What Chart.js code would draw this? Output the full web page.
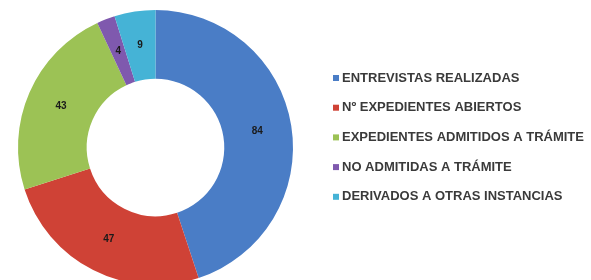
<!DOCTYPE html>
<html>
<head>
<meta charset="utf-8">
<script src="https://cdn.jsdelivr.net/npm/chart.js@4/dist/chart.umd.min.js"></script>
<style>
  html, body { margin:0; padding:0; background:#ffffff; }
  #wrap { position:relative; width:591px; height:280px; overflow:hidden; }
  #wrap canvas { display:block; }
</style>
</head>
<body>
<div id="wrap"><canvas id="chart" width="591" height="285"></canvas></div>
<script>
// datos
const labels = [
  'ENTREVISTAS REALIZADAS',
  'Nº EXPEDIENTES ABIERTOS',
  'EXPEDIENTES ADMITIDOS A TRÁMITE',
  'NO ADMITIDAS A TRÁMITE',
  'DERIVADOS A OTRAS INSTANCIAS'
];
const values = [84, 47, 43, 4, 9];
const colours = ['#4A7DC6', '#CF4236', '#9CC255', '#7F59AE', '#45B3D6'];

// etiquetas de valor dentro de cada sector
const valueLabels = {
  id: 'valueLabels',
  afterDatasetsDraw(chart) {
    const { ctx } = chart;
    const meta = chart.getDatasetMeta(0);
    ctx.save();
    ctx.font = 'bold 10px "Liberation Sans", Arial, sans-serif';
    ctx.fillStyle = '#1a1a1a';
    ctx.textAlign = 'center';
    ctx.textBaseline = 'middle';
    meta.data.forEach((arc, i) => {
      const p = arc.tooltipPosition();
      ctx.fillText(String(chart.data.datasets[0].data[i]), p.x, p.y);
    });
    ctx.restore();
  }
};

// leyenda a la derecha, dibujada a mano
const sideLegend = {
  id: 'sideLegend',
  afterDraw(chart) {
    const { ctx } = chart;
    const x0 = 333, y0 = 78, step = 29.7;
    ctx.save();
    ctx.font = 'bold 13px "Liberation Sans", Arial, sans-serif';
    ctx.textBaseline = 'middle';
    chart.data.labels.forEach((lab, i) => {
      const y = y0 + i * step;
      ctx.fillStyle = chart.data.datasets[0].backgroundColor[i];
      ctx.fillRect(x0, y - 3, 6, 6);
      ctx.fillStyle = '#3a3a3a';
      ctx.fillText(lab, x0 + 9, y);
    });
    ctx.restore();
  }
};

new Chart(document.getElementById('chart'), {
  type: 'doughnut',
  data: {
    labels: labels,
    datasets: [{ data: values, backgroundColor: colours, borderWidth: 0 }]
  },
  options: {
    responsive: false,
    animation: false,
    cutout: '50%',
    layout: { padding: { left: 18, right: 298, top: 10, bottom: 0 } },
    plugins: { legend: { display: false }, tooltip: { enabled: false } }
  },
  plugins: [valueLabels, sideLegend]
});
</script>
</body>
</html>
